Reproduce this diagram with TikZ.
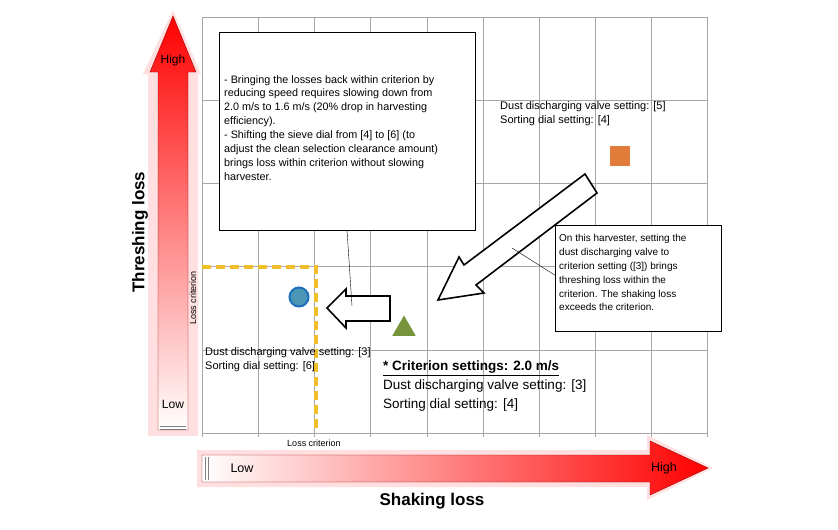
\documentclass[tikz,border=0pt]{standalone}
\usepackage{fontspec}
\setmainfont{Liberation Sans}
\usepackage{tikz}
\usetikzlibrary{shapes.geometric}
\definecolor{crityellow}{RGB}{240,190,40}
\definecolor{dotblue}{RGB}{75,150,180}
\definecolor{dotedge}{RGB}{30,110,190}
\definecolor{trigreen}{RGB}{119,147,60}
\definecolor{sqorange}{RGB}{224,123,57}
\tikzset{
    small/.style={font=\fontsize{11}{14}\selectfont, inner sep=0pt},
    boxtext/.style={font=\fontsize{10.8}{13.9}\selectfont, align=left, inner sep=0pt},
    crit/.style={draw=crityellow, line width=3.5pt, dash pattern=on 9pt off 5pt},
    hollow/.style={draw=black, fill=white, line width=1.6pt},
}
\begin{document}
\begin{tikzpicture}[x=1pt,y=-1pt]
    \useasboundingbox (0,0) rectangle (838,530);
    % grid
    \foreach \x in {202,258,314,370,427,483,539,595,651,707} {
        \draw[gray!70] (\x,17) -- (\x,437);
    }
    \foreach \y in {17,100,183,266,350,433} {
        \draw[gray!70] (202,\y) -- (707,\y);
    }
    % vertical arrow (threshing loss)
    \fill[red!25, opacity=0.5] (148,436) -- (148,74) -- (143,74) -- (173,10) -- (201,74) -- (198,74) -- (198,436) -- cycle;
    \shade[bottom color=white, top color=red, draw=red!60!black] (158,430) -- (158,72) -- (150,72) -- (173,16) -- (196,72) -- (188,72) -- (188,430) -- cycle;
    \draw[gray, line width=0.8pt] (160,426) -- (186,426) (160,429) -- (186,429);
    \node[font=\fontsize{12}{14}\selectfont] at (173,60) {High};
    \node[font=\fontsize{12}{14}\selectfont] at (173,404) {Low};
    \node[rotate=90, font=\bfseries\fontsize{17}{20}\selectfont] (thresh) at (140,232) {Threshing loss};
    % horizontal arrow (shaking loss)
    \fill[red!25, opacity=0.5] (197,450) -- (647,450) -- (647,435) -- (713,468) -- (647,500) -- (647,487) -- (197,487) -- cycle;
    \shade[left color=white, right color=red, draw=red!60!black] (202,455) -- (650,455) -- (650,441) -- (708,468) -- (650,495) -- (650,482) -- (202,482) -- cycle;
    \draw[gray, line width=0.8pt] (205,457) -- (205,480) (208,457) -- (208,480);
    \node[font=\fontsize{12.5}{14}\selectfont] at (242,468) {Low};
    \node[font=\fontsize{12.5}{14}\selectfont] at (664,468) {High};
    \node[font=\bfseries\fontsize{17}{20}\selectfont] (shake) at (432,501) {Shaking loss};
    % loss criterion lines
    \draw[crit] (202,267) -- (316,267) -- (316,433);
    \node[small, rotate=90, font=\fontsize{9}{10}\selectfont] (critv) at (193,298) {Loss criterion};
    \node[small, font=\fontsize{9}{10}\selectfont] (crith) at (314,443) {Loss criterion};
    % comment box 1
    \node[draw, fill=white, minimum width=256, minimum height=198, anchor=north west] (box1) at (219,32) {};
    \node[boxtext, anchor=north west] at (224,75) {- Bringing the losses back within criterion by\\reducing speed requires slowing down from\\2.0 m/s to 1.6 m/s (20\% drop in harvesting\\efficiency).\\- Shifting the sieve dial from [4] to [6] (to\\adjust the clean selection clearance amount)\\brings loss within criterion without slowing\\harvester.};
    % hollow arrow to the left
    \draw[hollow] (390,296) -- (346,296) -- (346,289) -- (327,308) -- (346,328) -- (346,321) -- (390,321) -- cycle;
    \coordinate (tip1) at (352,306);
    \draw (347,230) -- (tip1);
    % big diagonal hollow arrow
    \draw[hollow] (585,174) -- (464,265) -- (459,257) -- (438,300) -- (484,293) -- (476,285) -- (597,193) -- cycle;
    % markers
    \node[circle, draw=dotedge, line width=2pt, fill=dotblue, minimum size=19] (now) at (299,297) {};
    \node[regular polygon, regular polygon sides=3, fill=trigreen, inner sep=0pt, minimum size=27] (std) at (404,329) {};
    \node[fill=sqorange, minimum size=20, inner sep=0pt] (old) at (620,156) {};
    % setting labels
    \node[small, anchor=west, align=left] at (500,114) {Dust discharging valve setting: [5]\\Sorting dial setting: [4]};
    \node[small, anchor=west, align=left] at (205,360) {Dust discharging valve setting: [3]\\Sorting dial setting: [6]};
    \node[anchor=north west, align=left, inner sep=0pt, font=\fontsize{13.5}{19}\selectfont] at (383,361) {\textbf{\underline{* Criterion settings: 2.0 m/s}}\\Dust discharging valve setting: [3]\\Sorting dial setting: [4]};
    % comment box 2
    \node[draw, fill=white, minimum width=166, minimum height=106, anchor=north west] (box2) at (555,225) {};
    \node[boxtext, anchor=north west, font=\fontsize{10}{13.9}\selectfont] at (559,234) {On this harvester, setting the\\dust discharging valve to\\criterion setting ([3]) brings\\threshing loss within the\\criterion. The shaking loss\\exceeds the criterion.};
    \coordinate (tip2) at (512,248);
    \draw (box2.west) ++(0,-3) -- (tip2);
\end{tikzpicture}
\end{document}
